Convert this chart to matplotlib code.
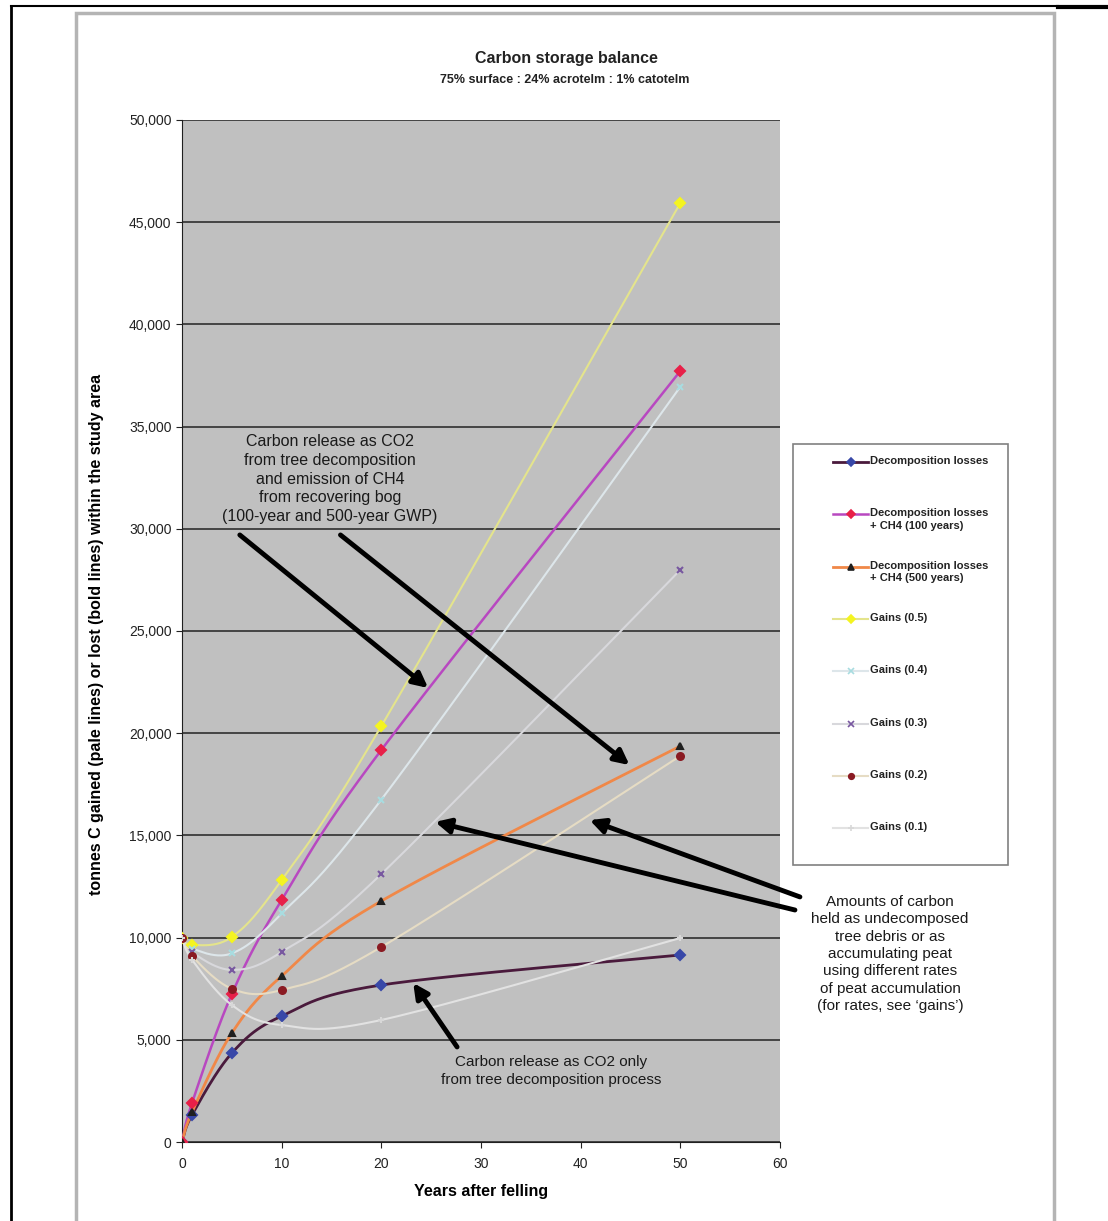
import matplotlib
matplotlib.use("Agg")
import matplotlib.pyplot as plt
from matplotlib.lines import Line2D
from matplotlib.patches import Rectangle
from matplotlib.ticker import FuncFormatter, MultipleLocator
import numpy as np

plt.rcParams['font.family'] = ['Liberation Sans', 'DejaVu Sans']

W, H = 1108, 1221

years = [0, 1, 5, 10, 20, 50]
decomp = [0, 1320, 4350, 6160, 7680, 9150]
decomp_ch4_100 = [0, 1900, 7240, 11840, 19180, 37720]
decomp_ch4_500 = [0, 1450, 5330, 8120, 11790, 19370]
gains_05 = [10000, 9640, 10030, 12820, 20350, 45940]
gains_04 = [10000, 9460, 9230, 11180, 16750, 36950]
gains_03 = [10000, 9280, 8420, 9300, 13110, 27990]
gains_02 = [10000, 9100, 7500, 7440, 9540, 18890]
gains_01 = [10000, 8920, 6700, 5720, 5970, 9980]

labels = ["Decomposition losses",
          "Decomposition losses\n+ CH4 (100 years)",
          "Decomposition losses\n+ CH4 (500 years)",
          "Gains (0.5)", "Gains (0.4)", "Gains (0.3)", "Gains (0.2)", "Gains (0.1)"]

XMAX, YMAX = 60, 50000


def fig_frac(px, py):
    return px / W, 1 - py / H


def smooth(xs, ys, n=40):
    # Excel-style smoothed line (Bezier through the points), worked out in screen proportions
    sx, sy = 598 / XMAX, 1022 / YMAX
    P = np.column_stack([np.array(xs, float) * sx, np.array(ys, float) * sy])
    out = []
    t = np.linspace(0, 1, n)[:, None]
    for i in range(len(P) - 1):
        p0 = P[i - 1] if i > 0 else P[i]
        p1, p2 = P[i], P[i + 1]
        p3 = P[i + 2] if i + 2 < len(P) else P[i + 1]
        c1 = p1 + (p2 - p0) / 6
        c2 = p2 - (p3 - p1) / 6
        seg = ((1 - t) ** 3) * p1 + 3 * ((1 - t) ** 2) * t * c1 + 3 * (1 - t) * t ** 2 * c2 + t ** 3 * p2
        out.append(seg)
    out = np.vstack(out)
    return out[:, 0] / sx, out[:, 1] / sy


fig = plt.figure(figsize=(W / 100, H / 100), dpi=100)

# outer page lines and chart-area border
fig.add_artist(Line2D([11 / W, 1058 / W], [1 - 6 / H, 1 - 6 / H], color='black', lw=1.5))
fig.add_artist(Line2D([1058 / W, 1.0], [1 - 7 / H, 1 - 7 / H], color='black', lw=3))
fig.add_artist(Line2D([11 / W, 11 / W], [0, 1 - 6 / H], color='black', lw=2))
fig.add_artist(Rectangle((76 / W, -0.01), (1054 - 76) / W, 1 - 13 / H + 0.01,
                         transform=fig.transFigure, fill=False, edgecolor='#b4b4b4', lw=2.5))

ax = fig.add_axes([182 / W, 1 - 1142 / H, (780 - 182) / W, (1142 - 120) / H])
ax.set_facecolor('#c0c0c0')
ax.set_xlim(0, XMAX)
ax.set_ylim(0, YMAX)
ax.yaxis.set_major_locator(MultipleLocator(5000))
ax.xaxis.set_major_locator(MultipleLocator(10))
ax.yaxis.set_major_formatter(FuncFormatter(lambda v, p: f"{int(v):,}"))
ax.grid(axis='y', color='#3a3a3a', lw=1.3)
ax.set_axisbelow(True)
for s in ['top', 'right']:
    ax.spines[s].set_visible(False)
for s in ['left', 'bottom']:
    ax.spines[s].set_color('#202020')
ax.tick_params(direction='out', length=4, labelsize=10, colors='#222222')
ax.tick_params(axis='x', pad=7)

series = [
    (decomp, '#4a1a3c', 'D', '#3848a8', 2.0),
    (decomp_ch4_100, '#b848c0', 'D', '#e82048', 1.8),
    (decomp_ch4_500, '#f08848', '^', '#202020', 2.0),
    (gains_05, '#e4e48c', 'D', '#f4f420', 1.5),
    (gains_04, '#dde6ea', 'x', '#a8dce0', 1.5),
    (gains_03, '#d8d8dc', 'x', '#7858a0', 1.5),
    (gains_02, '#e6dcc4', 'o', '#8a1a22', 1.5),
    (gains_01, '#e2e2e2', '+', '#d8d8d8', 1.5),
]
for vals, lc, mk, mc, lw in series:
    xs, ys = smooth(years, vals)
    ax.plot(xs, ys, color=lc, lw=lw, zorder=3)
    ax.plot(years, vals, ls='none', marker=mk, ms=5, color=mc, mec=mc, mew=1.5, zorder=4)

ax.set_xlabel("Years after felling", fontsize=11.5, fontweight='bold')
ax.xaxis.set_label_coords(0.5, -(1184 - 1142) / 1022)
ax.set_ylabel("tonnes C gained (pale lines) or lost (bold lines) within the study area",
              fontsize=11.5, fontweight='bold')
ax.yaxis.set_label_coords(-(182 - 104) / 598, (1142 - 634) / 1022)

fig.text(*fig_frac(566, 59), "Carbon storage balance", ha='center', va='center',
         fontsize=11.5, fontweight='bold', color='#222222')
fig.text(*fig_frac(565, 80), "75% surface : 24% acrotelm : 1% catotelm", ha='center', va='center',
         fontsize=9, fontweight='bold', color='#222222')

# legend box, drawn by hand so that entries sit on an even step like the original
fig.add_artist(Rectangle((793 / W, 1 - 865 / H), 215 / W, 421 / H, transform=fig.transFigure,
                         facecolor='white', edgecolor='#808080', lw=1.2, zorder=5))
for i, ((vals, lc, mk, mc, lw), lab) in enumerate(zip(series, labels)):
    top = 456 + 52.3 * i
    ly = 1 - (top + 6) / H
    fig.add_artist(Line2D([833 / W, 868 / W], [ly, ly], color=lc, lw=lw, zorder=6))
    fig.add_artist(Line2D([851 / W], [ly], ls='none', marker=mk, ms=4, color=mc, mec=mc,
                          mew=1.2, zorder=7))
    fig.text(870 / W, 1 - top / H, lab, ha='left', va='top', fontsize=8, fontweight='bold',
             color='#222222', linespacing=1.3, zorder=7)

fig.text(*fig_frac(330, 479),
         "Carbon release as CO2\nfrom tree decomposition\nand emission of CH4\nfrom recovering bog\n(100-year and 500-year GWP)",
         ha='center', va='center', fontsize=11.5, linespacing=1.3, color='#1a1a1a')
fig.text(*fig_frac(890, 954),
         "Amounts of carbon\nheld as undecomposed\ntree debris or as\naccumulating peat\nusing different rates\nof peat accumulation\n(for rates, see \u2018gains\u2019)",
         ha='center', va='center', fontsize=11, linespacing=1.3, color='#1a1a1a')
fig.text(*fig_frac(551, 1071),
         "Carbon release as CO2 only\nfrom tree decomposition process",
         ha='center', va='center', fontsize=11, linespacing=1.3, color='#1a1a1a')

arrows = [
    ((5.8, 29700), (24.7, 22210)),
    ((15.9, 29700), (44.9, 18440)),
    ((62.0, 11990), (40.9, 15750)),
    ((61.5, 11350), (25.4, 15660)),
    ((27.6, 4650), (23.2, 7780)),
]
for tail, head in arrows:
    ax.annotate("", xy=head, xytext=tail, annotation_clip=False,
                arrowprops=dict(arrowstyle='-|>', lw=3.5, color='black', mutation_scale=22,
                                shrinkA=0, shrinkB=0), zorder=6)

fig.savefig("out.png", dpi=100)
